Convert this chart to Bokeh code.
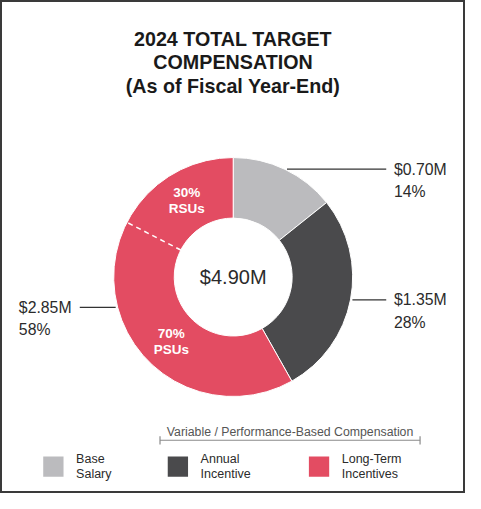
import numpy as np
from bokeh.plotting import figure
from bokeh.models import Range1d
from bokeh.core.properties import value
from bokeh.embed import file_html
from bokeh.resources import INLINE

# data
categories = ["Base Salary", "Annual Incentive", "Long-Term Incentives"]
amounts = [0.70, 1.35, 2.85]          # $M
colors = ["#bbbbbe", "#4a4a4c", "#e34c62"]
legend_lines = [["Base", "Salary"], ["Annual", "Incentive"], ["Long-Term", "Incentives"]]
lti_split_names = ["PSUs", "RSUs"]
lti_split_pct = [70, 30]
title_lines = ["2024 TOTAL TARGET", "COMPENSATION", "(As of Fiscal Year-End)"]
bracket_label = "Variable / Performance-Based Compensation"

FONT = value("Liberation Sans")
W, H = 481, 509          # drawing space (pixels of the reference, y down)


def Y(y):
    return H - y


p = figure(width=465, height=493, x_range=Range1d(0, W), y_range=Range1d(0, H),
           output_backend="svg", toolbar_location=None, min_border=0)
p.axis.visible = False
p.grid.visible = False
p.outline_line_color = "#3a3a3a"
p.outline_line_width = 3
p.background_fill_color = "white"
p.border_fill_color = "white"

# title
for i, line in enumerate(title_lines):
    p.text(x=[W / 2], y=[Y(40 + 24 * i)], text=[line], text_font=FONT,
           text_font_size="19.7px", text_font_style="bold", text_color="#1a1a1a",
           text_align="center", text_baseline="middle")

# donut
cx, cy = 240.7, Y(285.5)
r_in, r_out = 61, 123.6
total = sum(amounts)
fracs = np.array(amounts) / total
cum = np.concatenate([[0], np.cumsum(fracs)])
starts = np.pi / 2 - 2 * np.pi * cum[:-1]
ends = np.pi / 2 - 2 * np.pi * cum[1:]
p.annular_wedge(x=cx, y=cy, inner_radius=r_in, outer_radius=r_out,
                start_angle=list(starts), end_angle=list(ends), direction="clock",
                fill_color=colors, line_color="white", line_width=1)

# PSU / RSU split inside long-term incentives
lti_start = cum[2]
split_frac = lti_start + fracs[2] * lti_split_pct[0] / 100
a_split = np.pi / 2 - 2 * np.pi * split_frac
p.segment(x0=cx + r_in * np.cos(a_split), y0=cy + r_in * np.sin(a_split),
          x1=cx + r_out * np.cos(a_split), y1=cy + r_out * np.sin(a_split),
          line_color="white", line_width=1.5, line_dash="5 4")

sub_bounds = [lti_start, split_frac, cum[3]]
r_mid = (r_in + r_out) / 2
for k, name in enumerate(lti_split_names):
    a = np.pi / 2 - 2 * np.pi * (sub_bounds[k] + sub_bounds[k + 1]) / 2
    mx, my = cx + r_mid * np.cos(a), cy + r_mid * np.sin(a)
    p.text(x=[mx, mx], y=[my + 8, my - 8], text=[f"{lti_split_pct[k]}%", name],
           text_font=FONT, text_font_size="13.5px", text_font_style="bold",
           text_color="white", text_align="center", text_baseline="middle")

p.text(x=[cx], y=[cy], text=[f"${total:.2f}M"], text_font=FONT, text_font_size="20px",
       text_color="#2b2b2b", text_align="center", text_baseline="middle")

# leader lines + value labels
for k, amt in enumerate(amounts):
    a = np.pi / 2 - 2 * np.pi * (cum[k] + cum[k + 1]) / 2
    ly = cy + r_out * np.sin(a)
    right = np.cos(a) > 0
    edge = cx + np.sqrt(max(r_out ** 2 - (ly - cy) ** 2, 0)) * (1 if right else -1)
    if right:
        x0, x1, tx = max(edge, cx + r_out * np.cos(a)) + 2, 399, 407
    else:
        x0, x1, tx = edge - 2, 82, 19
    p.segment(x0=x0, y0=ly, x1=x1, y1=ly, line_color="#333333", line_width=1.2)
    p.text(x=[tx, tx], y=[ly, ly - 23],
           text=[f"${amt:.2f}M", f"{round(fracs[k] * 100)}%"],
           text_font=FONT, text_font_size="15.8px", text_color="#2b2b2b",
           text_align="left", text_baseline="middle")

# legend
sq_x = [54.7, 183.5, 329.5]
sq_y = Y(481.3)
p.rect(x=sq_x, y=sq_y, width=21, height=21, fill_color=colors, line_color=None)
for k, lines in enumerate(legend_lines):
    p.text(x=[sq_x[k] + 23.5] * 2, y=[Y(473.3), Y(488.5)], text=lines,
           text_font=FONT, text_font_size="12.5px", text_color="#2b2b2b",
           text_align="left", text_baseline="middle")

# bracket over variable compensation
bx0, bx1, by = 165, 434, Y(454)
p.segment(x0=[bx0, bx0, bx1], y0=[by, by + 4, by + 4], x1=[bx1, bx0, bx1], y1=[by, by - 4.5, by - 4.5],
          line_color="#8a8a8a", line_width=1.2)
p.text(x=[(bx0 + bx1) / 2], y=[Y(445.7)], text=[bracket_label], text_font=FONT,
       text_font_size="12.3px", text_color="#555555", text_align="center", text_baseline="middle")

open("out.html", "w").write(file_html(p, INLINE))
